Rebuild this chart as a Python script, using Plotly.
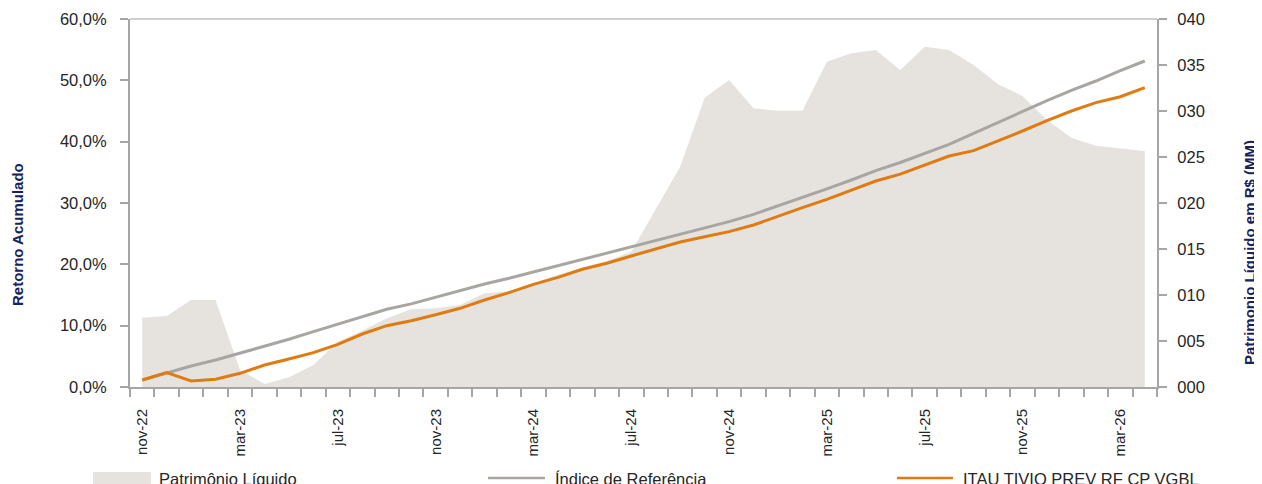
import plotly.graph_objects as go

months = ["nov-22", "dez-22", "jan-23", "fev-23", "mar-23", "abr-23", "mai-23", "jun-23",
          "jul-23", "ago-23", "set-23", "out-23", "nov-23", "dez-23", "jan-24", "fev-24",
          "mar-24", "abr-24", "mai-24", "jun-24", "jul-24", "ago-24", "set-24", "out-24",
          "nov-24", "dez-24", "jan-25", "fev-25", "mar-25", "abr-25", "mai-25", "jun-25",
          "jul-25", "ago-25", "set-25", "out-25", "nov-25", "dez-25", "jan-26", "fev-26",
          "mar-26", "abr-26"]

tick_labels = ["nov-22", "mar-23", "jul-23", "nov-23", "mar-24", "jul-24",
               "nov-24", "mar-25", "jul-25", "nov-25", "mar-26"]

# Patrimônio Líquido (R$ MM) - right axis
pl = [7.53, 7.72, 9.46, 9.46, 1.85, 0.33, 1.05, 2.39, 4.92, 6.12,
      7.47, 8.45, 8.55, 8.90, 10.2, 10.4, 11.3, 12.2, 13.0, 13.7,
      14.7, 19.3, 23.95, 31.45, 33.37, 30.29, 30.03, 30.03, 35.36, 36.27,
      36.63, 34.46, 36.99, 36.63, 35.0, 32.9, 31.63, 29.02, 27.1, 26.23,
      25.94, 25.65]

# Índice de Referência (% acumulado)
indice = [1.14, 2.34, 3.42, 4.40, 5.49, 6.58, 7.78, 9.02, 10.22, 11.47,
          12.67, 13.55, 14.62, 15.65, 16.79, 17.72, 18.75, 19.73, 20.82, 21.80,
          22.88, 23.95, 24.95, 25.98, 26.96, 28.15, 29.51, 30.87, 32.29, 33.75,
          35.27, 36.6, 38.1, 39.57, 41.36, 43.15, 44.89, 46.68, 48.37, 49.89,
          51.57, 53.15]

# ITAU TIVIO PREV RF CP VGBL (% acumulado)
fundo = [1.14, 2.34, 0.98, 1.25, 2.23, 3.59, 4.57, 5.60, 6.96, 8.64,
         10.0, 10.8, 11.79, 12.83, 14.19, 15.38, 16.74, 17.88, 19.19, 20.17,
         21.36, 22.5, 23.65, 24.51, 25.33, 26.41, 27.88, 29.24, 30.6, 32.12,
         33.59, 34.7, 36.2, 37.66, 38.53, 40.11, 41.74, 43.42, 45.0, 46.36,
         47.33, 48.8]

x = list(range(len(months)))
tickvals = [months.index(t) for t in tick_labels]

AREA = "#E6E3DF"
GRAY = "#A9A6A2"
ORANGE = "#E07B12"
AXIS = "#A6A6A6"
NAVY = "#15245B"
TXT = "#262626"
FONT = "Arial, Liberation Sans, sans-serif"

fig = go.Figure()
fig.add_trace(go.Scatter(x=x, y=pl, mode="lines", fill="tozeroy", fillcolor=AREA,
                         line=dict(width=0, color=AREA), name="Patrimônio Líquido",
                         yaxis="y"))
fig.add_trace(go.Scatter(x=x, y=indice, mode="lines", line=dict(color=GRAY, width=3),
                         name="Índice de Referência", yaxis="y2"))
fig.add_trace(go.Scatter(x=x, y=fundo, mode="lines", line=dict(color=ORANGE, width=3),
                         name="ITAU TIVIO PREV RF CP VGBL", yaxis="y2"))

# page has an 8px body margin, so the figure is sized to fit the window
OFF = 8
W, H = 1262 - OFF, 484 - OFF
PL_LEFT, PL_RIGHT, PL_TOP, PL_BOT = 130, 1157, 19, 387   # page pixels of plot area
L, R, T, B = PL_LEFT - OFF, 1262 - PL_RIGHT, PL_TOP - OFF, 484 - PL_BOT
pw, ph = PL_RIGHT - PL_LEFT, PL_BOT - PL_TOP

def px(xp):
    return (xp - PL_LEFT) / pw

def py(yp):
    return (PL_BOT - yp) / ph

fig.update_layout(
    width=W, height=H,
    margin=dict(l=L, r=R, t=T, b=B, pad=0, autoexpand=False),
    paper_bgcolor="white", plot_bgcolor="white",
    separators=",.",
    showlegend=False,
    font=dict(family=FONT, size=15, color=TXT),
    xaxis=dict(
        range=[-0.5, len(months) - 0.5],
        tickmode="array", tickvals=tickvals, ticktext=tick_labels,
        tickangle=-90, tickfont=dict(size=15, color=TXT),
        ticks="outside", ticklen=14, tickcolor="rgba(0,0,0,0)",
        showline=True, linecolor=AXIS, linewidth=2,
        showgrid=False, zeroline=False,
        minor=dict(tickmode="linear", tick0=-0.5, dtick=1, ticks="outside",
                   ticklen=8, tickcolor=AXIS, tickwidth=2, showgrid=False),
    ),
    yaxis=dict(
        side="right", range=[0, 40], dtick=5, tickformat="03d",
        tickfont=dict(size=16.5, color=TXT),
        ticks="outside", ticklen=8, tickcolor=AXIS, tickwidth=2,
        ticklabelstandoff=7,
        showline=True, linecolor=AXIS, linewidth=2,
        showgrid=False, zeroline=False,
    ),
    yaxis2=dict(
        overlaying="y", side="left", range=[0, 60], dtick=10,
        tickformat=".1f", ticksuffix="%",
        tickfont=dict(size=16.5, color=TXT),
        ticks="outside", ticklen=8, tickcolor=AXIS, tickwidth=2,
        ticklabelstandoff=10,
        showline=True, linecolor=AXIS, linewidth=2,
        showgrid=False, zeroline=False,
    ),
)

shapes = [
    dict(type="line", xref="paper", yref="paper", x0=0, x1=1, y0=1, y1=1,
         line=dict(color="#D0D0D0", width=2)),
    # legend symbols
    dict(type="rect", xref="paper", yref="paper", x0=px(93), x1=px(151),
         y0=py(492), y1=py(472), fillcolor=AREA, line=dict(width=0)),
    dict(type="line", xref="paper", yref="paper", x0=px(488), x1=px(545),
         y0=py(478), y1=py(478), line=dict(color=GRAY, width=2.5)),
    dict(type="line", xref="paper", yref="paper", x0=px(897), x1=px(953),
         y0=py(478), y1=py(478), line=dict(color=ORANGE, width=2.5)),
]
fig.update_layout(shapes=shapes)

ann = [
    dict(text="<b>Retorno Acumulado</b>", x=px(18), y=py(235), xref="paper", yref="paper",
         textangle=-90, showarrow=False, xanchor="center", yanchor="middle",
         font=dict(size=15, color=NAVY, family=FONT)),
    dict(text="<b>Patrimonio Líquido em R$ (MM)</b>", x=px(1249), y=py(253),
         xref="paper", yref="paper", textangle=-90, showarrow=False,
         xanchor="center", yanchor="middle",
         font=dict(size=15, color=NAVY, family=FONT)),
    dict(text="Patrimônio Líquido", x=px(157), y=py(479), xref="paper", yref="paper",
         showarrow=False, xanchor="left", yanchor="middle",
         font=dict(size=16.5, color=TXT, family=FONT)),
    dict(text="Índice de Referência", x=px(553), y=py(479), xref="paper", yref="paper",
         showarrow=False, xanchor="left", yanchor="middle",
         font=dict(size=16.5, color=TXT, family=FONT)),
    dict(text="ITAU TIVIO PREV RF CP VGBL", x=px(961), y=py(479), xref="paper", yref="paper",
         showarrow=False, xanchor="left", yanchor="middle",
         font=dict(size=16.5, color=TXT, family=FONT)),
]
fig.update_layout(annotations=ann)

fig.write_html("out.html")
